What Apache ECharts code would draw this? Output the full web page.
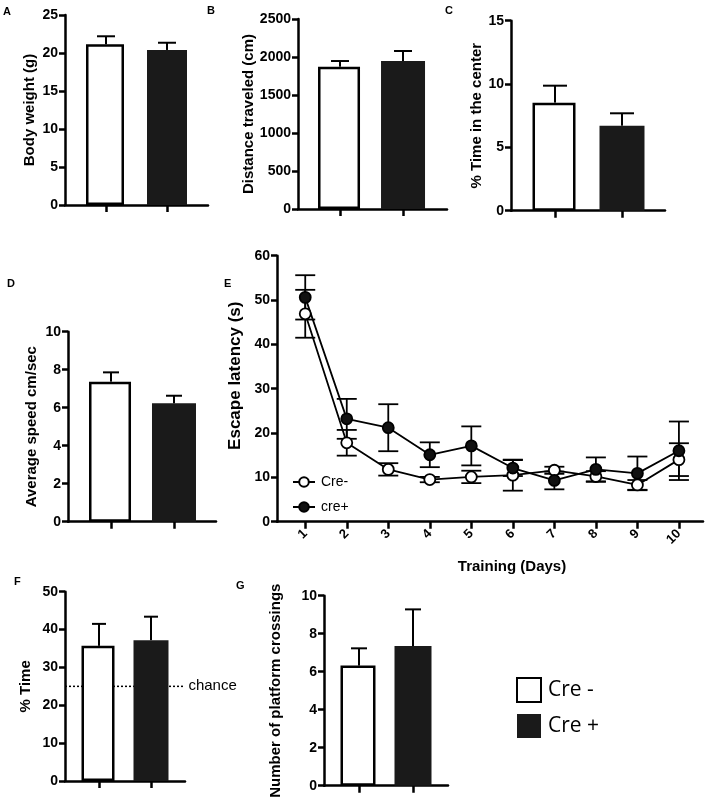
<!DOCTYPE html>
<html><head><meta charset="utf-8">
<script src="https://cdn.jsdelivr.net/npm/echarts@6/dist/echarts.min.js"></script>
<style>html,body{margin:0;padding:0;background:#fff}#c{width:708px;height:809px}</style>
</head><body><div id="c"></div>
<script>
// ---------- data ----------
const groups = ['Cre -', 'Cre +'];
const groupX = [1, 2];
const bodyWeight = [21.15, 20.4];
const bodyWeightErr = [1.05, 0.95];
const distance = [1872, 1947];
const distanceErr = [75, 132];
const timeCenter = [8.53, 6.71];
const timeCenterErr = [1.34, 0.98];
const avgSpeed = [7.37, 6.23];
const avgSpeedErr = [0.49, 0.40];
const probeTime = [35.7, 37.2];
const probeTimeErr = [5.8, 6.2];
const chanceLevel = 25;
const crossings = [6.32, 7.35];
const crossingsErr = [0.91, 1.93];

const days = [1, 2, 3, 4, 5, 6, 7, 8, 9, 10];
const latencyCreMinus = [46.9, 17.8, 11.8, 9.5, 10.1, 10.5, 11.6, 10.2, 8.3, 14.0];
const latencyCreMinusErr = [5.4, 2.9, 1.4, 0.6, 1.4, 3.5, 0.8, 1.2, 1.1, 3.7];
const latencyCrePlus = [50.6, 23.2, 21.2, 15.1, 17.1, 12.1, 9.3, 11.8, 10.9, 16.0];
const latencyCrePlusErr = [5.0, 4.5, 5.3, 2.8, 4.4, 1.8, 2.0, 2.7, 3.8, 6.6];

// ---------- layout / style ----------
const FONT = 'Liberation Sans';
const BLACK = '#1a1a1a';
const axisLineStyle = {color: '#000', width: 2.5};

const barPanels = [
  {grid: {left: 65, top: 15, width: 143, height: 190}, xMin: 0.328, xMax: 2.672, yMax: 25, interval: 5,
   name: 'Body weight (g)', nameGap: 28, values: bodyWeight, errs: bodyWeightErr, bw: 40, cap: 9},
  {grid: {left: 298, top: 19, width: 149, height: 190}, xMin: 0.333, xMax: 2.698, yMax: 2500, interval: 500,
   name: 'Distance traveled (cm)', nameGap: 41, values: distance, errs: distanceErr, bw: 44, cap: 9},
  {grid: {left: 511, top: 20.7, width: 154, height: 190}, xMin: 0.343, xMax: 2.642, yMax: 15, interval: 5,
   name: '% Time in the center', nameGap: 24, values: timeCenter, errs: timeCenterErr, bw: 45, cap: 12},
  {grid: {left: 68, top: 331.7, width: 148, height: 190}, xMin: 0.317, xMax: 2.667, yMax: 10, interval: 2,
   name: 'Average speed cm/sec', nameGap: 29, values: avgSpeed, errs: avgSpeedErr, bw: 44, cap: 8},
  {grid: {left: 65, top: 591.7, width: 120, height: 189.3}, xMin: 0.346, xMax: 2.654, yMax: 50, interval: 10,
   name: '% Time', nameGap: 32, values: probeTime, errs: probeTimeErr, bw: 35, cap: 7},
  {grid: {left: 324, top: 595.7, width: 124, height: 190}, xMin: 0.352, xMax: 2.648, yMax: 10, interval: 2,
   name: 'Number of platform crossings', nameGap: 41, values: crossings, errs: crossingsErr, bw: 37, cap: 8}
];
const lineGrid = {left: 277, top: 255.7, width: 426, height: 266};

function yAxisCfg(gi, max, interval, name, nameGap, extra) {
  return Object.assign({
    type: 'value', gridIndex: gi, min: 0, max: max, interval: interval,
    axisLine: {show: true, lineStyle: axisLineStyle},
    axisTick: {show: true, length: 6, lineStyle: axisLineStyle},
    axisLabel: {color: '#000', fontWeight: 'bold', fontSize: 14, fontFamily: FONT, margin: 7,
      formatter: function (v) { return String(v); }},
    splitLine: {show: false},
    name: name, nameLocation: 'middle', nameGap: nameGap, nameRotate: 90,
    nameTextStyle: {color: '#000', fontWeight: 'bold', fontSize: 15, fontFamily: FONT}
  }, extra || {});
}

function errRender(cap, both, lw) {
  return function (params, api) {
    const x = api.value(0), y = api.value(1), e = api.value(2);
    const pTop = api.coord([x, y + e]);
    const pMid = api.coord([x, y]);
    const pBot = api.coord([x, y - e]);
    const style = {stroke: '#000', lineWidth: lw, fill: null};
    const children = [
      {type: 'line', shape: {x1: pTop[0], y1: pTop[1], x2: pTop[0], y2: both ? pBot[1] : pMid[1]}, style: style},
      {type: 'line', shape: {x1: pTop[0] - cap, y1: pTop[1], x2: pTop[0] + cap, y2: pTop[1]}, style: style}
    ];
    if (both) children.push({type: 'line', shape: {x1: pBot[0] - cap, y1: pBot[1], x2: pBot[0] + cap, y2: pBot[1]}, style: style});
    return {type: 'group', children: children};
  };
}

const grids = [], xAxes = [], yAxes = [], series = [];

barPanels.forEach(function (p, gi) {
  grids.push(p.grid);
  xAxes.push({
    type: 'value', gridIndex: gi, min: p.xMin, max: p.xMax,
    axisLine: {show: true, onZero: false, lineStyle: axisLineStyle},
    axisTick: {show: true, length: 7, customValues: groupX, lineStyle: axisLineStyle},
    axisLabel: {show: false, customValues: groupX},
    splitLine: {show: false}
  });
  yAxes.push(yAxisCfg(gi, p.yMax, p.interval, p.name, p.nameGap));
  groups.forEach(function (g, k) {
    series.push({
      type: 'bar', name: g, xAxisIndex: gi, yAxisIndex: gi,
      barWidth: k === 0 ? p.bw - 2 : p.bw, barGap: '-100%', z: 2,
      itemStyle: k === 0 ? {color: '#fff', borderColor: '#000', borderWidth: 2.5} : {color: BLACK},
      data: [[groupX[k], p.values[k]]]
    });
  });
  series.push({
    type: 'custom', xAxisIndex: gi, yAxisIndex: gi, z: 3, silent: true,
    renderItem: errRender(p.cap, false, 2),
    encode: {x: 0, y: 1},
    data: groupX.map(function (x, k) { return [x, p.values[k], p.errs[k]]; })
  });
});

// chance line in panel F (grid index 4)
series.push({
  type: 'line', name: 'chance', xAxisIndex: 4, yAxisIndex: 4, z: 1, silent: true,
  symbol: 'none', lineStyle: {color: '#000', width: 1.5, type: [2, 2]},
  endLabel: {show: true, formatter: 'chance', color: '#000', fontSize: 15, fontFamily: FONT, distance: 5},
  data: [[barPanels[4].xMin, chanceLevel], [barPanels[4].xMax - 0.03, chanceLevel]]
});

// panel E
const ei = grids.length;
grids.push(lineGrid);
xAxes.push({
  type: 'value', gridIndex: ei, min: 0.32, max: 10.58,
  axisLine: {show: true, onZero: false, lineStyle: axisLineStyle},
  axisTick: {show: true, length: 7, customValues: days, lineStyle: axisLineStyle},
  axisLabel: {customValues: days, rotate: 45, color: '#000', fontWeight: 'bold', fontSize: 13, fontFamily: FONT, margin: 10},
  splitLine: {show: false},
  name: 'Training (Days)', nameLocation: 'middle', nameGap: 38,
  nameTextStyle: {color: '#000', fontWeight: 'bold', fontSize: 15, fontFamily: FONT, padding: [0, 0, 0, 44]}
});
yAxes.push(yAxisCfg(ei, 60, 10, 'Escape latency (s)', 30, {
  nameTextStyle: {color: '#000', fontWeight: 'bold', fontSize: 17, fontFamily: FONT, padding: [0, 0, 0, 26]}
}));
[
  {name: 'Cre-', vals: latencyCreMinus, errs: latencyCreMinusErr, fill: '#fff'},
  {name: 'cre+', vals: latencyCrePlus, errs: latencyCrePlusErr, fill: '#111'}
].forEach(function (s) {
  series.push({
    type: 'custom', xAxisIndex: ei, yAxisIndex: ei, z: 2, silent: true,
    renderItem: errRender(10, true, 1.8), encode: {x: 0, y: 1},
    data: days.map(function (d, i) { return [d, s.vals[i], s.errs[i]]; })
  });
  series.push({
    type: 'line', name: s.name, xAxisIndex: ei, yAxisIndex: ei, z: 4,
    symbol: 'circle', symbolSize: 11,
    itemStyle: {color: s.fill, borderColor: '#000', borderWidth: 1.8},
    lineStyle: {color: '#000', width: 1.8},
    data: days.map(function (d, i) { return [d, s.vals[i]]; })
  });
});

const letters = [['A', 3, 6], ['B', 207, 5], ['C', 445, 5], ['D', 7, 278], ['E', 224, 278], ['F', 14, 576], ['G', 236, 580]];

const option = {
  animation: false,
  backgroundColor: '#fff',
  title: letters.map(function (l) {
    return {text: l[0], left: l[1], top: l[2], padding: 0,
      textStyle: {fontSize: 11, fontWeight: 'bold', color: '#000', fontFamily: FONT}};
  }),
  legend: [
    {data: ['Cre-', 'cre+'], orient: 'vertical', left: 287, top: 470, itemWidth: 22, itemHeight: 12, itemGap: 11,
     selectedMode: false,
     textStyle: {fontSize: 14, color: '#000', fontFamily: FONT, padding: [0, 0, 0, 1]}},
    {data: [{name: 'Cre -', icon: 'rect'}, {name: 'Cre +', icon: 'rect'}], orient: 'vertical', left: 511, top: 672,
     itemWidth: 24, itemHeight: 24, itemGap: 11, selectedMode: false,
     textStyle: {fontSize: 21, color: '#000', fontFamily: 'Open Sans', padding: [0, 0, 0, 2]}}
  ],
  grid: grids, xAxis: xAxes, yAxis: yAxes, series: series
};

const chart = echarts.init(document.getElementById('c'), null, {renderer: 'canvas'});
chart.setOption(option);
</script>
</body></html>
